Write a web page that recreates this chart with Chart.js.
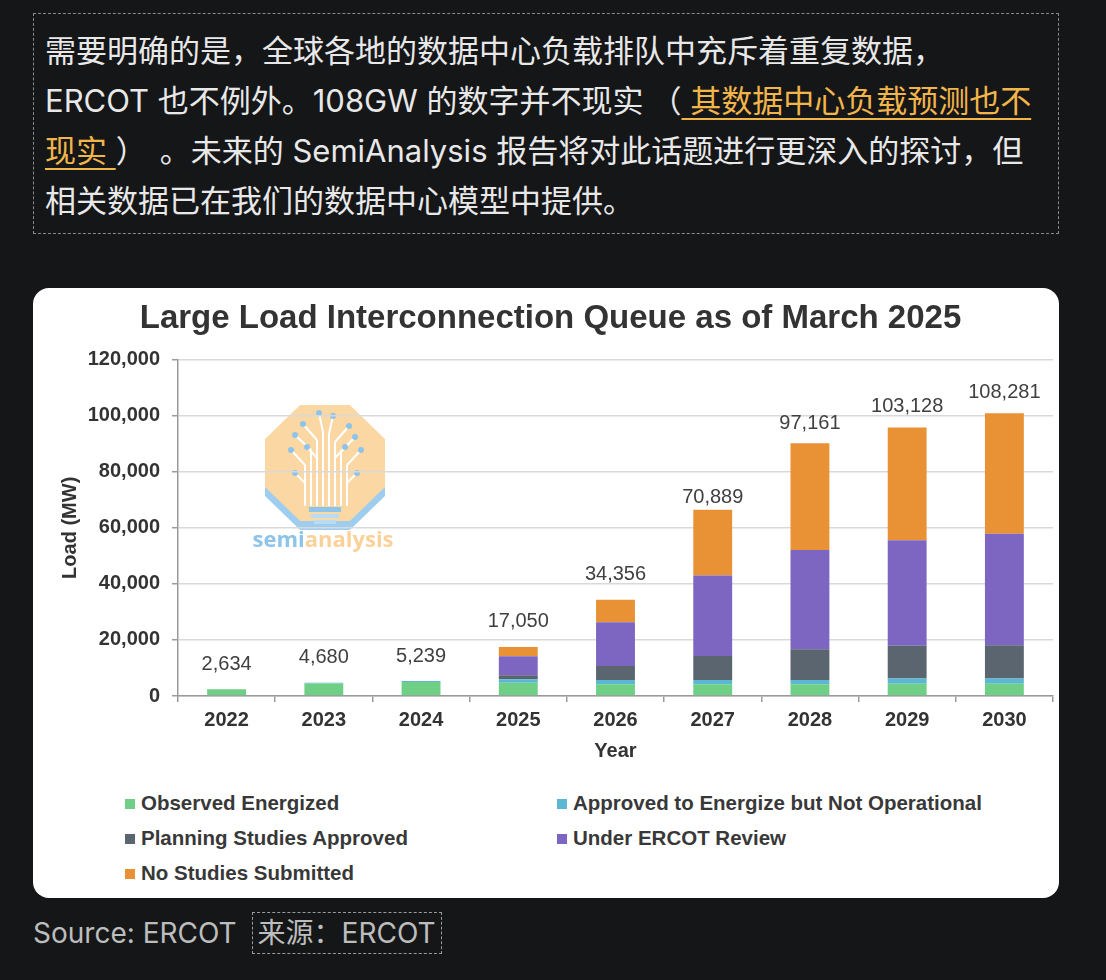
<!DOCTYPE html>
<html>
<head>
<meta charset="utf-8">
<script src="https://cdn.jsdelivr.net/npm/chart.js@4.4.1/dist/chart.umd.min.js"></script>
<style>
  body { margin: 0; background: #151618; width: 1106px; height: 980px; overflow: hidden; position: relative; }
  .note {
    position: absolute; left: 33px; top: 13px; width: 1026px; height: 221px; box-sizing: border-box;
    border: 1.5px dashed #8a8a8a; padding: 12px 0 0 11px;
    font-family: "Inter", "Noto Sans CJK SC", sans-serif; font-size: 31px; line-height: 50px;
    color: #e8e8e8; white-space: nowrap;
  }
  .note a { color: #f2b54a; text-decoration: underline; text-underline-offset: 6px; text-decoration-thickness: 2px; }
  .note i { display: inline-block; }
  .card {
    position: absolute; left: 33px; top: 288px; width: 1026px; height: 610px;
    background: #fff; border-radius: 16px; overflow: hidden;
  }
  #wrap { position: absolute; left: 0; top: 0; width: 1026px; height: 500px; }
  .legend { position: absolute; left: 0; top: 0; width: 1026px; font-family: "Liberation Sans", Arial, sans-serif;
    font-weight: bold; font-size: 20.5px; color: #383838; }
  .legend div { position: absolute; white-space: nowrap; line-height: 24px; }
  .legend span { display: inline-block; width: 10px; height: 10px; margin-right: 6px; vertical-align: 1px; }
  .src { position: absolute; left: 33px; top: 912px; font-family: "Inter", "Noto Sans CJK SC", sans-serif;
    font-size: 28px; line-height: 43px; color: #bdbdbd; white-space: nowrap; }
  .src .box { display: inline-block; border: 1.5px dashed #9a9a9a; padding: 0 5px; margin-left: 15px;
    line-height: 40px; vertical-align: top; }
</style>
</head>
<body>
<div class="note">需要明确的是，全球各地的数据中心负载排队中充斥着重复数据，<br>ERCOT 也不例外。108GW 的数字并不现实<i style="width:7px"></i>（<a> 其数据中心负载预测也不<br>现实 </a>）<i style="width:13px"></i>。未来的 SemiAnalysis 报告将对此话题进行更深入的探讨，但<br>相关数据已在我们的数据中心模型中提供。</div>

<div class="card">
  <div id="wrap"><canvas id="graphique"></canvas></div>
  <div class="legend" id="legende"></div>
</div>

<div class="src">Source: ERCOT<span class="box">来源：ERCOT</span></div>

<script>
// Données (MW)
const annees = ['2022', '2023', '2024', '2025', '2026', '2027', '2028', '2029', '2030'];
const observe = [2400, 4500, 5000, 4750, 4200, 4200, 4200, 4400, 4400];
const approuve = [0, 250, 350, 1250, 1500, 1500, 1500, 1800, 1800];
const etudesApprouvees = [0, 0, 0, 1400, 5000, 8600, 11000, 11700, 11900];
const revueErcot = [0, 0, 0, 6800, 15600, 28700, 35400, 37700, 39800];
const sansEtudes = [0, 0, 0, 3300, 8000, 23400, 38100, 40200, 43000];
const totaux = [2634, 4680, 5239, 17050, 34356, 70889, 97161, 103128, 108281];
const ticksY = [0, 20000, 40000, 60000, 80000, 100000, 120000];

const series = [
  { label: 'Observed Energized', data: observe, color: '#6fcf86' },
  { label: 'Approved to Energize but Not Operational', data: approuve, color: '#5bb8d3' },
  { label: 'Planning Studies Approved', data: etudesApprouvees, color: '#5b6570' },
  { label: 'Under ERCOT Review', data: revueErcot, color: '#7d66c2' },
  { label: 'No Studies Submitted', data: sansEtudes, color: '#e89235' }
];

const police = '"Liberation Sans", Arial, sans-serif';

// Logo semianalysis en filigrane
const logoPlugin = {
  id: 'logo',
  beforeDraw(chart) {
    const ctx = chart.ctx;
    const cx = 292, cy = 175, rx = 60, ry = 58;
    function octo(dy, fill) {
      ctx.beginPath();
      for (let k = 0; k < 8; k++) {
        const a = Math.PI / 8 + k * Math.PI / 4;
        const px = cx + rx * Math.cos(a) / Math.cos(Math.PI / 8);
        const py = cy + dy + ry * Math.sin(a) / Math.cos(Math.PI / 8);
        if (k === 0) ctx.moveTo(px, py); else ctx.lineTo(px, py);
      }
      ctx.closePath();
      ctx.fillStyle = fill;
      ctx.fill();
    }
    ctx.save();
    ctx.lineJoin = 'round';
    octo(9, '#9fcdf0');
    octo(0, '#fbd8a3');
    // arbre
    ctx.strokeStyle = '#ffffff';
    ctx.lineWidth = 2;
    const base = 218;
    const troncs = [272, 278, 284, 290, 296, 302, 308, 314];
    const hauts = [177, 162, 152, 144, 146, 154, 164, 177];
    troncs.forEach((x, k) => {
      ctx.beginPath(); ctx.moveTo(x, base); ctx.lineTo(x, hauts[k]); ctx.stroke();
    });
    const branches = [
      [272, 177, 258, 162], [278, 162, 262, 147], [284, 152, 270, 136], [290, 144, 286, 125],
      [296, 146, 300, 128], [302, 154, 316, 138], [308, 164, 322, 149], [314, 177, 328, 162],
      [272, 195, 262, 185], [314, 195, 324, 185], [284, 170, 274, 159], [302, 170, 312, 159]
    ];
    ctx.fillStyle = '#8ec3ea';
    branches.forEach(b => {
      ctx.beginPath(); ctx.moveTo(b[0], b[1]); ctx.lineTo(b[2], b[3]); ctx.stroke();
      ctx.beginPath(); ctx.arc(b[2], b[3], 3, 0, Math.PI * 2); ctx.fill();
    });
    // culot
    ctx.fillStyle = '#8ec3ea';
    ctx.fillRect(276, 219, 32, 5);
    ctx.fillStyle = '#b9dcf5';
    ctx.fillRect(278, 226, 28, 4);
    ctx.fillRect(281, 232, 22, 4);
    // texte
    ctx.font = 'bold 22px "Open Sans", sans-serif';
    ctx.textBaseline = 'middle';
    ctx.textAlign = 'left';
    const t1 = 'semi', t2 = 'analysis';
    const w1 = ctx.measureText(t1).width, w2 = ctx.measureText(t2).width;
    const x0 = 290 - (w1 + w2) / 2;
    ctx.fillStyle = '#8ec3ea';
    ctx.fillText(t1, x0, 253);
    ctx.fillStyle = '#fbd19a';
    ctx.fillText(t2, x0 + w1, 253);
    ctx.restore();
  }
};

// Totaux au-dessus des barres
const totauxPlugin = {
  id: 'totaux',
  afterDatasetsDraw(chart) {
    const ctx = chart.ctx;
    const y = chart.scales.y;
    const derniere = chart.getDatasetMeta(chart.data.datasets.length - 1);
    ctx.save();
    ctx.font = '20px ' + police;
    ctx.fillStyle = '#404040';
    ctx.textAlign = 'center';
    ctx.textBaseline = 'middle';
    totaux.forEach((t, i) => {
      const el = derniere.data[i];
      const haut = el.y;
      let py = y.getPixelForValue(t);
      if (py > haut - 12) py = haut - 25;
      ctx.fillText(t.toLocaleString('en-US'), el.x, py);
    });
    ctx.restore();
  }
};

new Chart(document.getElementById('graphique'), {
  type: 'bar',
  data: {
    labels: annees,
    datasets: series.map(s => ({
      label: s.label, data: s.data, backgroundColor: s.color,
      barPercentage: 0.4, categoryPercentage: 1.0, borderWidth: 0
    }))
  },
  options: {
    responsive: true,
    maintainAspectRatio: false,
    animation: false,
    layout: { padding: { left: 15, right: 6, top: 0, bottom: 21 } },
    plugins: {
      legend: { display: false },
      tooltip: { enabled: false },
      title: {
        display: true,
        text: 'Large Load Interconnection Queue as of March 2025',
        color: '#333333',
        font: { family: police, size: 33, weight: 'bold' },
        padding: { top: 11, bottom: 21 }
      }
    },
    scales: {
      x: {
        stacked: true,
        grid: { display: true, drawOnChartArea: false, drawTicks: true, tickLength: 6, color: '#9a9a9a', lineWidth: 1.5, offset: true },
        border: { color: '#9a9a9a', width: 1.5 },
        ticks: { color: '#333333', padding: 6, font: { family: police, size: 20, weight: 'bold' } },
        title: { display: true, text: 'Year', color: '#333333', padding: { top: 1, bottom: 4 },
          font: { family: police, size: 20, weight: 'bold' } }
      },
      y: {
        stacked: true,
        min: 0,
        max: 120000,
        afterBuildTicks(scale) { scale.ticks = ticksY.map(v => ({ value: v })); },
        afterFit(scale) { scale.width = 130; },
        grid: { color: '#d9d9d9', lineWidth: 1.5, tickLength: 6, tickColor: '#9a9a9a' },
        border: { color: '#9a9a9a', width: 1.5 },
        ticks: {
          color: '#333333', padding: 12,
          font: { family: police, size: 20, weight: 'bold' },
          callback: v => v.toLocaleString('en-US')
        },
        title: { display: true, text: 'Load (MW)', color: '#333333', padding: { top: 10, bottom: 6 },
          font: { family: police, size: 20, weight: 'bold' } }
      }
    }
  },
  plugins: [logoPlugin, totauxPlugin]
});

// Légende en deux colonnes
const positions = [[92, 503], [524, 503], [92, 538], [524, 538], [92, 573]];
const legende = document.getElementById('legende');
series.forEach((s, i) => {
  const d = document.createElement('div');
  d.style.left = positions[i][0] + 'px';
  d.style.top = positions[i][1] + 'px';
  d.innerHTML = '<span style="background:' + s.color + '"></span>' + s.label;
  legende.appendChild(d);
});
</script>
</body>
</html>
